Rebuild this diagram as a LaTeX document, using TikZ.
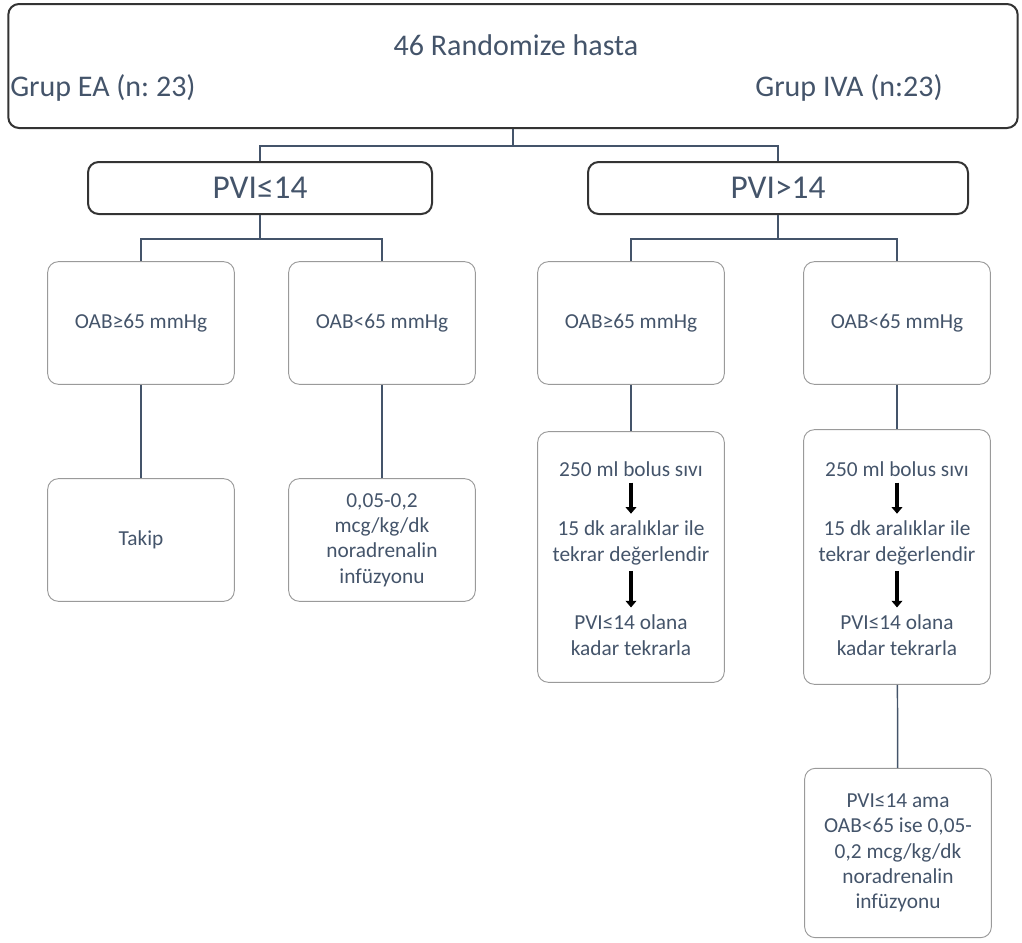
\documentclass[tikz,border=0pt]{standalone}
\usepackage{fontspec}
\setmainfont{Carlito}
\usetikzlibrary{arrows.meta}
\definecolor{slate}{HTML}{44546A}
\definecolor{boxgray}{HTML}{9A9A9A}
\frenchspacing
\begin{document}
\begin{tikzpicture}[x=0.75pt,y=-0.75pt]
  	\tikzstyle{every node}=[text=slate, font=\fontsize{16}{19}\selectfont, align=center]
  	\tikzstyle{headbox}=[draw=black!80, line width=1.5pt, rounded corners=8pt, inner sep=0pt]
  	\tikzstyle{stepbox}=[draw=boxgray, line width=0.7pt, rounded corners=8pt, inner sep=0pt, minimum width=140pt]
  	\tikzstyle{link}=[draw=slate, line width=1.1pt]
  	\tikzstyle{flow}=[draw=black, line width=3pt, shorten <=1pt, shorten >=2pt, -{Triangle[length=5pt,width=8pt]}]
  	\useasboundingbox (0,0) rectangle (1022,943);
  	% top box
  	\node[headbox, minimum width=757pt, minimum height=93pt] (top) at (513,66) {};
  	\node[font=\fontsize{22.5}{27}\selectfont] (rand) at (516,45) {46 Randomize hasta};
  	\node[font=\fontsize{22.5}{27}\selectfont, anchor=west, inner sep=0pt] (grupEA) at (10,88) {Grup EA (n: 23)};
  	\node[font=\fontsize{22.5}{27}\selectfont, anchor=east, inner sep=0pt] (grupIVA) at (943,88) {Grup IVA (n:23)};
  	% PVI boxes
  	\node[headbox, minimum width=258pt, minimum height=39pt, font=\fontsize{25}{30}\selectfont] (pviA) at (260,188) {PVI≤14};
  	\node[headbox, minimum width=285pt, minimum height=39pt, font=\fontsize{25}{30}\selectfont] (pviB) at (778,188) {PVI>14};
  	\draw[link] (top.south) -- ++(0,17) -| (pviA.north);
  	\draw[link] (top.south) -- ++(0,17) -| (pviB.north);
  	% OAB boxes
  	\node[stepbox, minimum height=92pt] (oabA) at (141,323) {OAB≥65 mmHg};
  	\node[stepbox, minimum height=92pt] (oabB) at (382,323) {OAB<65 mmHg};
  	\node[stepbox, minimum height=92pt] (oabC) at (631,323) {OAB≥65 mmHg};
  	\node[stepbox, minimum height=92pt] (oabD) at (897,323) {OAB<65 mmHg};
  	\draw[link] (pviA.south) -- ++(0,24) -| (oabA.north);
  	\draw[link] (pviA.south) -- ++(0,24) -| (oabB.north);
  	\draw[link] (pviB.south) -- ++(0,24) -| (oabC.north);
  	\draw[link] (pviB.south) -- ++(0,24) -| (oabD.north);
  	% second row
  	\node[stepbox, minimum height=92pt] (takip) at (141,540) {Takip};
  	\node[stepbox, minimum height=92pt] (nora) at (382,540) {0,05-0,2\\mcg/kg/dk\\noradrenalin\\infüzyonu};
  	\node[stepbox, minimum height=188pt] (loopC) at (631,557) {};
  	\node[stepbox, minimum height=191pt] (loopD) at (897,557) {};
  	\draw[link] (oabA) -- (takip);
  	\draw[link] (oabB) -- (nora);
  	\draw[link] (oabC) -- (loopC);
  	\draw[link] (oabD) -- (loopD);
  	% steps inside the loop boxes
  	\node (bolusC) at (631,469) {250 ml bolus sıvı};
  	\node (evalC) at (631,543) {15 dk aralıklar ile\\tekrar değerlendir};
  	\node (repC) at (631,635) {PVI≤14 olana\\kadar tekrarla};
  	\draw[flow] (bolusC) -- (evalC);
  	\draw[flow] (evalC) -- (repC);
  	\node (bolusD) at (897,469) {250 ml bolus sıvı};
  	\node (evalD) at (897,543) {15 dk aralıklar ile\\tekrar değerlendir};
  	\node (repD) at (897,635) {PVI≤14 olana\\kadar tekrarla};
  	\draw[flow] (bolusD) -- (evalD);
  	\draw[flow] (evalD) -- (repD);
  	% last box
  	\node[stepbox, minimum height=127pt] (last) at (898,853) {PVI≤14 ama\\OAB<65 ise 0,05-\\0,2 mcg/kg/dk\\noradrenalin\\infüzyonu};
  	\draw[link] (loopD) -- (last);
\end{tikzpicture}
\end{document}
